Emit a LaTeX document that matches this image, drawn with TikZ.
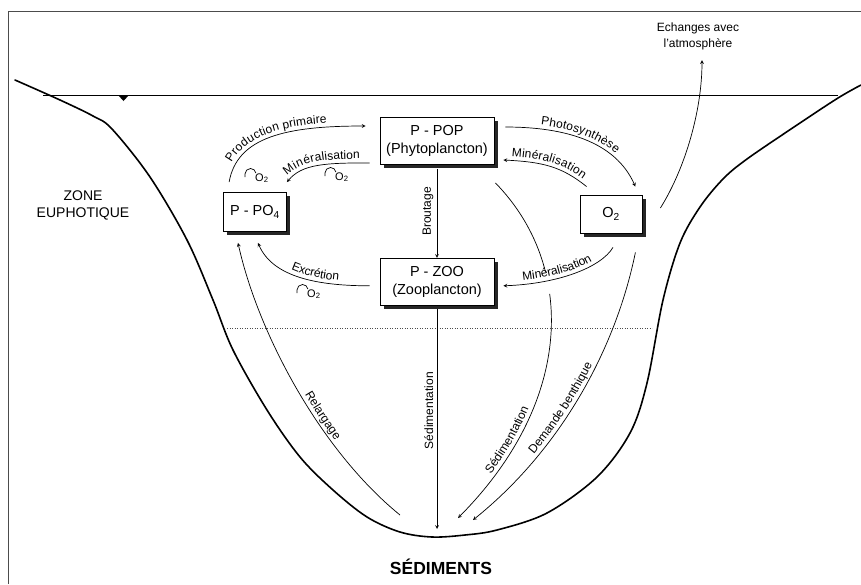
\documentclass[tikz,border=0pt]{standalone}
\usepackage{fontspec}
\setmainfont{Liberation Sans}
\usetikzlibrary{arrows, positioning, shadows, calc, decorations.text}

\newcommand{\lblfont}{\fontsize{12}{14}\selectfont}
\tikzstyle{compart} = [rectangle, draw=black, line width=0.8pt, fill=white, align=center, font=\fontsize{14.5}{18}\selectfont, drop shadow={shadow xshift=3.5pt, shadow yshift=-3.5pt, fill=black!85, opacity=1}]
\tikzstyle{arrow} = [line width=0.7pt, ->, >=stealth]
\tikzstyle{flux} = [line width=0.7pt, <-, >=stealth]
\tikzstyle{basin} = [line width=1.6pt, line join=round, line cap=round]
\tikzstyle{hook} = [line width=0.7pt]
\tikzstyle{oxy} = [font=\fontsize{11}{12}\selectfont, inner sep=0pt]
\tikzset{along/.style 2 args={postaction={decorate, decoration={text along path, text={|\lblfont|#2}, text align={left, left indent=#1}, raise=4pt}}}}

\begin{document}
\begin{tikzpicture}[x=1pt, y=-1pt]
\useasboundingbox (0,0) rectangle (861,584);

% cadre
\draw[black!70, line width=0.6pt] (8,584) -- (8,11) -- (861,11);

% bassin et surface
\draw[basin] plot[smooth, tension=0.55] coordinates {(15,80) (60,100) (93,116) (112,129) (150,177) (187,240) (213,300) (233,350) (267,410) (300,457) (333,490) (367,517) (400,532) (432,537) (465,535) (497,530) (547,513) (597,477) (630,433) (647,383) (663,300) (680,243) (700,207) (723,179) (747,159) (797,125) (838,98) (861,85)};
\draw[line width=0.7pt] (43,95) -- (838,95);
\fill (118,95) -- (129,95) -- (123.5,101) -- cycle;
\draw[dotted, black!70, line width=0.5pt] (227,328) -- (652,328);

% compartiments
\node (pop) [compart, minimum width=114pt, minimum height=47pt] at (437,141) {P - POP\\(Phytoplancton)};
\node (zoo) [compart, minimum width=114pt, minimum height=47pt, below=93pt of pop] {P - ZOO\\(Zooplancton)};
\node (po4) [compart, minimum width=63pt, minimum height=39pt] at (255,212) {P - PO\textsubscript{4}};
\node (o2) [compart, minimum width=62pt, minimum height=38pt] at (611,214) {O\textsubscript{2}};

% textes
\node (zone) [font=\fontsize{14}{17}\selectfont, align=center] at (83,205) {ZONE\\EUPHOTIQUE};
\node (sed) [font=\fontsize{17.5}{20}\selectfont\bfseries] at (441,567) {SÉDIMENTS};
\node (atmo) [font=\fontsize{12}{16}\selectfont, align=center] at (698,36) {Echanges avec\\l'atmosphère};

\coordinate (s1) at (400,515);
\coordinate (s2) at (437,529);
\coordinate (s3) at (458,518);
\coordinate (s4) at (473,520);

% flux verticaux
\draw[arrow, shorten <=4pt] (pop.south) -- node[midway, rotate=90, above, font=\lblfont] (brout) {Broutage} (zoo.north);
\draw[arrow, shorten <=3pt] (zoo.south) -- node[pos=0.47, rotate=90, above, font=\lblfont] (sedim) {Sédimentation} (s2);

% flux autour de P-PO4
\draw[arrow, along={18pt}{Production primaire}] ($(po4.north west)+(6,-10)$) .. controls +(8,-45) and +(-80,0) .. ($(pop.west)+(-14,-15)$);
\draw[flux, along={4pt}{Minéralisation}] ($(po4.north east)+(0,-10)$) .. controls +(15,-18) and +(-45,0) .. ($(pop.south west)+(-10,-2)$);
\draw[flux, along={45pt}{Excrétion}] ($(po4.south)+(3,11)$) .. controls +(15,35) and +(-50,0) .. ($(zoo.west)+(-10,4)$);
\draw[flux, along={167pt}{Relargage}] ($(po4.south)+(-17,11)$) .. controls +(20,90) and +(-80,-65) .. (s1);

% flux autour de O2
\draw[arrow, along={35pt}{Photosynthèse}] ($(pop.east)+(11,-14)$) .. controls +(60,0) and +(-20,-45) .. ($(o2.north east)+(-7,-8)$);
\draw[flux, along={8pt}{Minéralisation}] ($(pop.east)+(9,19)$) .. controls +(40,2) and +(-25,-20) .. ($(o2.north west)+(7,-8)$);
\draw[flux, along={55pt}{Sédimentation}] (s3) .. controls +(117,-118) and +(80,82) .. ($(pop.south east)+(1,18)$);
\path[draw=white, line width=22pt, shorten <=28pt, shorten >=42pt] ($(zoo.east)+(9,4)$) .. controls +(55,-2) and +(-12,20) .. ($(o2.south)+(2,14)$);
\draw[flux, along={20pt}{Minéralisation}] ($(zoo.east)+(9,4)$) .. controls +(55,-2) and +(-12,20) .. ($(o2.south)+(2,14)$);
\draw[flux, along={90pt}{Demande benthique}] (s4) .. controls +(87,-70) and +(-20,98) .. ($(o2.south east)+(-7,19)$);
\draw[arrow] ($(o2.east)+(18,-6)$) .. controls +(25,-40) and +(0,50) .. ($(atmo.south)+(4,7)$);

% consommation d'oxygene
\foreach \hx/\hy [count=\i] in {245/177, 325/176, 297/293} {
  \draw[hook] (\hx,\hy) -- ++(0,-3) arc[start angle=180, end angle=10, radius=5.5pt];
  \node[oxy, anchor=west] (ox\i) at (\hx+10,\hy+1) {O\textsubscript{2}};
}

\end{tikzpicture}
\end{document}
